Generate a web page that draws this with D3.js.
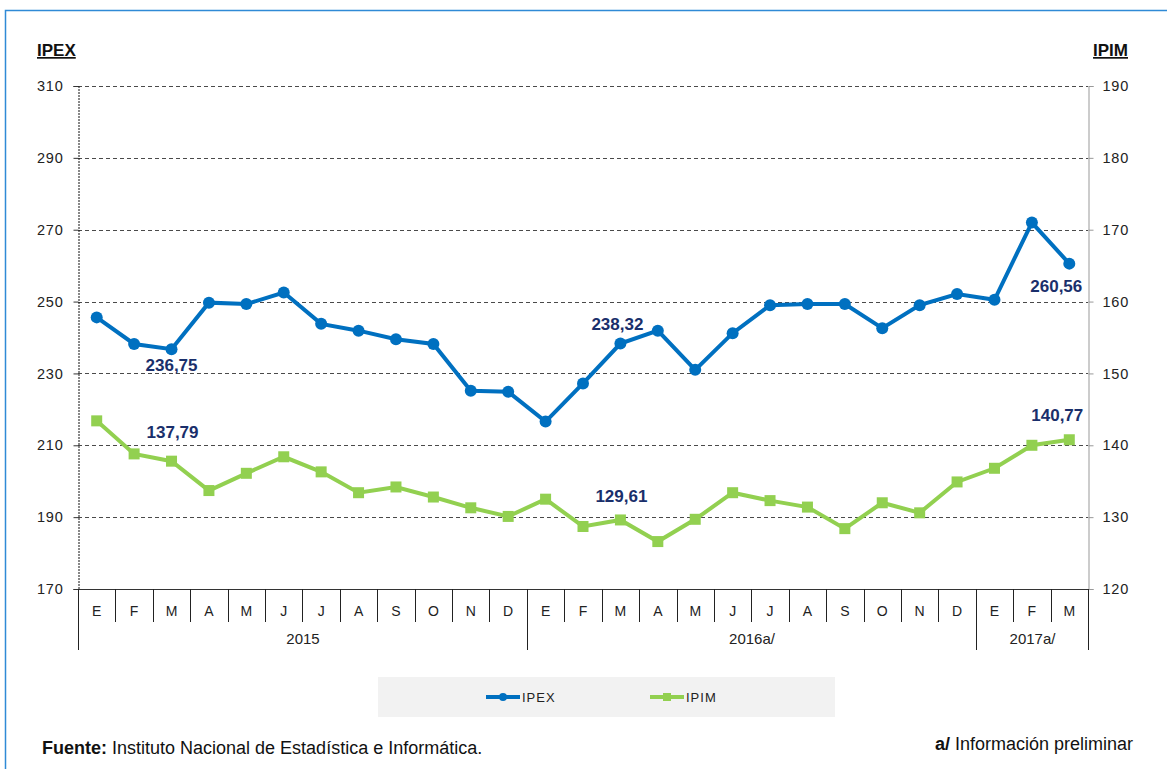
<!DOCTYPE html>
<html>
<head>
<meta charset="utf-8">
<script src="https://cdn.jsdelivr.net/npm/d3@7"></script>
<style>
  body { margin: 0; background: #fff; }
  svg { display: block; font-family: 'Liberation Sans', Arial, sans-serif; }
</style>
</head>
<body>
<div id="chartContainer"></div>
<script>
// Month initials along the bottom axis
var months = ['E', 'F', 'M', 'A', 'M', 'J', 'J', 'A', 'S', 'O', 'N', 'D',
  'E', 'F', 'M', 'A', 'M', 'J', 'J', 'A', 'S', 'O', 'N', 'D',
  'E', 'F', 'M'];
// Year groups and how many months each one holds
var years = ['2015', '2016a/', '2017a/'];
var yearMonths = [12, 12, 3];
// IPEX (left axis) and IPIM (right axis)
var ipex = [245.6, 238.2, 236.75, 249.7, 249.3, 252.5, 243.8, 241.9, 239.5, 238.2, 225.2, 224.9,
  216.6, 227.2, 238.32, 241.9, 231.0, 241.2, 249.0, 249.3, 249.3, 242.6, 249.0, 252.1,
  250.5, 272.0, 260.56];
var ipim = [143.4, 138.8, 137.79, 133.7, 136.1, 138.4, 136.3, 133.4, 134.2, 132.8, 131.3, 130.1,
  132.5, 128.7, 129.61, 126.6, 129.7, 133.4, 132.3, 131.4, 128.4, 132.0, 130.6, 134.9,
  136.8, 140.0, 140.77];
var leftTicks = [170, 190, 210, 230, 250, 270, 290, 310];
var rightTicks = [120, 130, 140, 150, 160, 170, 180, 190];

var W = 1167, H = 769;
// plot box (window.top is read-only, so use other names)
var pL = 78, pR = 1088, pT = 86, pB = 589;

var svg = d3.select('#chartContainer').append('svg')
  .attr('width', W).attr('height', H);

// Outer blue frame
svg.append('rect')
  .attr('x', 5.5).attr('y', 10.5)
  .attr('width', 1300).attr('height', 900)
  .style('fill', 'none')
  .style('stroke', '#2f8ad6')
  .style('stroke-width', 1.5);

var x = d3.scaleBand().domain(d3.range(months.length)).range([pL, pR]);
var yl = d3.scaleLinear().domain([170, 310]).range([pB, pT]);
var yr = d3.scaleLinear().domain([120, 190]).range([pB, pT]);
var cx = function(i) { return x(i) + x.bandwidth() / 2; };
var edge = function(i) { return Math.round(i < months.length ? x(i) : pR) + 0.5; };

// Dashed gridlines
svg.append('g').selectAll('line')
  .data(leftTicks.slice(1))
  .enter().append('line')
  .attr('x1', pL).attr('x2', pR)
  .attr('y1', function(d) { return Math.round(yl(d)) + 0.5; })
  .attr('y2', function(d) { return Math.round(yl(d)) + 0.5; })
  .style('stroke', '#4a4a4a')
  .style('stroke-dasharray', '4,3');

// Left axis (dotted line)
var la = svg.append('g').attr('transform', 'translate(' + (pL + 0.5) + ',0)')
  .call(d3.axisLeft(yl).tickValues(leftTicks).tickSize(5).tickPadding(10));
la.select('.domain').style('stroke', '#111').style('stroke-dasharray', '2,1');
la.selectAll('line').style('stroke', '#333');
la.selectAll('text').style('font-size', '14.5px').style('letter-spacing', '0.8px').style('fill', '#222')
  .style('font-family', "'Liberation Sans', Arial, sans-serif");

// Right axis
var ra = svg.append('g').attr('transform', 'translate(' + (pR + 0.5) + ',0)')
  .call(d3.axisRight(yr).tickValues(rightTicks).tickSize(5).tickPadding(9));
ra.select('.domain').style('stroke', '#999');
ra.selectAll('line').style('stroke', '#999');
ra.selectAll('text').style('font-size', '14.5px').style('letter-spacing', '0.8px').style('fill', '#222')
  .style('font-family', "'Liberation Sans', Arial, sans-serif");

// Bottom axis line
svg.append('line')
  .attr('x1', pL).attr('x2', pR)
  .attr('y1', pB + 0.5).attr('y2', pB + 0.5)
  .style('stroke', '#333');

// Month separators and labels
svg.append('g').selectAll('line')
  .data(d3.range(months.length + 1))
  .enter().append('line')
  .attr('x1', edge).attr('x2', edge)
  .attr('y1', pB).attr('y2', pB + 33)
  .style('stroke', '#222');

svg.append('g').selectAll('text')
  .data(months)
  .enter().append('text')
  .attr('x', function(d, i) { return cx(i); })
  .attr('y', pB + 27)
  .attr('text-anchor', 'middle')
  .style('font-size', '14px')
  .style('fill', '#222')
  .text(function(d) { return d; });

// Year separators and labels
var starts = [0];
yearMonths.forEach(function(n, i) { starts.push(starts[i] + n); });
svg.append('g').selectAll('line')
  .data(starts)
  .enter().append('line')
  .attr('x1', edge).attr('x2', edge)
  .attr('y1', pB).attr('y2', pB + 61)
  .style('stroke', '#222');

svg.append('g').selectAll('text')
  .data(years)
  .enter().append('text')
  .attr('x', function(d, i) { return (edge(starts[i]) + edge(starts[i + 1])) / 2; })
  .attr('y', pB + 55)
  .attr('text-anchor', 'middle')
  .style('font-size', '15px')
  .style('fill', '#222')
  .text(function(d) { return d; });

// Series lines and markers
var lineL = d3.line().x(function(d, i) { return cx(i); }).y(function(d) { return yl(d); });
var lineR = d3.line().x(function(d, i) { return cx(i); }).y(function(d) { return yr(d); });

svg.append('path').datum(ipim).attr('d', lineR)
  .style('fill', 'none').style('stroke', '#92d050').style('stroke-width', 4);
svg.append('g').selectAll('rect')
  .data(ipim)
  .enter().append('rect')
  .attr('x', function(d, i) { return cx(i) - 5.5; })
  .attr('y', function(d) { return yr(d) - 5.5; })
  .attr('width', 11).attr('height', 11)
  .style('fill', '#92d050');

svg.append('path').datum(ipex).attr('d', lineL)
  .style('fill', 'none').style('stroke', '#0070c0').style('stroke-width', 4);
svg.append('g').selectAll('circle')
  .data(ipex)
  .enter().append('circle')
  .attr('cx', function(d, i) { return cx(i); })
  .attr('cy', function(d) { return yl(d); })
  .attr('r', 6)
  .style('fill', '#0070c0');

// Data labels (comma decimal)
var fmt = d3.formatLocale({ decimal: ',', thousands: '.', grouping: [3], currency: ['', ''] }).format('.2f');
var notes = [
  { s: ipex, sc: yl, i: 2, dx: 0, dy: 22 },
  { s: ipex, sc: yl, i: 14, dx: -3, dy: -14 },
  { s: ipex, sc: yl, i: 26, dx: -13, dy: 28 },
  { s: ipim, sc: yr, i: 2, dx: 1, dy: -23 },
  { s: ipim, sc: yr, i: 14, dx: 1, dy: -18 },
  { s: ipim, sc: yr, i: 26, dx: -12, dy: -19 }
];
svg.append('g').selectAll('text')
  .data(notes)
  .enter().append('text')
  .attr('x', function(d) { return cx(d.i) + d.dx; })
  .attr('y', function(d) { return d.sc(d.s[d.i]) + d.dy; })
  .attr('text-anchor', 'middle')
  .style('font-size', '17px')
  .style('font-weight', 'bold')
  .style('fill', '#1a2f6b')
  .text(function(d) { return fmt(d.s[d.i]); });

// Axis titles
svg.append('text').attr('x', 37).attr('y', 56)
  .style('font-size', '17px').style('font-weight', 'bold')
  .style('text-decoration', 'underline').style('fill', '#111')
  .text('IPEX');
svg.append('text').attr('x', 1128).attr('y', 56)
  .attr('text-anchor', 'end')
  .style('font-size', '17px').style('font-weight', 'bold')
  .style('text-decoration', 'underline').style('fill', '#111')
  .text('IPIM');

// Legend
var lg = svg.append('g');
lg.append('rect').attr('x', 378).attr('y', 677).attr('width', 457).attr('height', 40)
  .style('fill', '#f2f2f2');
lg.append('line').attr('x1', 486).attr('x2', 520).attr('y1', 697).attr('y2', 697)
  .style('stroke', '#0070c0').style('stroke-width', 4);
lg.append('circle').attr('cx', 503).attr('cy', 697).attr('r', 4).style('fill', '#0070c0');
lg.append('text').attr('x', 522).attr('y', 702).style('font-size', '13px')
  .style('letter-spacing', '1px').style('fill', '#222').text('IPEX');
lg.append('line').attr('x1', 650).attr('x2', 684).attr('y1', 697).attr('y2', 697)
  .style('stroke', '#92d050').style('stroke-width', 4);
lg.append('rect').attr('x', 663).attr('y', 693).attr('width', 8).attr('height', 8).style('fill', '#92d050');
lg.append('text').attr('x', 686).attr('y', 702).style('font-size', '13px')
  .style('letter-spacing', '1px').style('fill', '#222').text('IPIM');

// Footer
var src = svg.append('text').attr('x', 42).attr('y', 754)
  .style('font-size', '18px').style('fill', '#111');
src.append('tspan').style('font-weight', 'bold').text('Fuente:');
src.append('tspan').text(' Instituto Nacional  de Estadística e Informática.');

var pre = svg.append('text').attr('x', 1133).attr('y', 750)
  .attr('text-anchor', 'end')
  .style('font-size', '18px').style('fill', '#111');
pre.append('tspan').style('font-weight', 'bold').text('a/');
pre.append('tspan').text(' Información  preliminar');
</script>
</body>
</html>
